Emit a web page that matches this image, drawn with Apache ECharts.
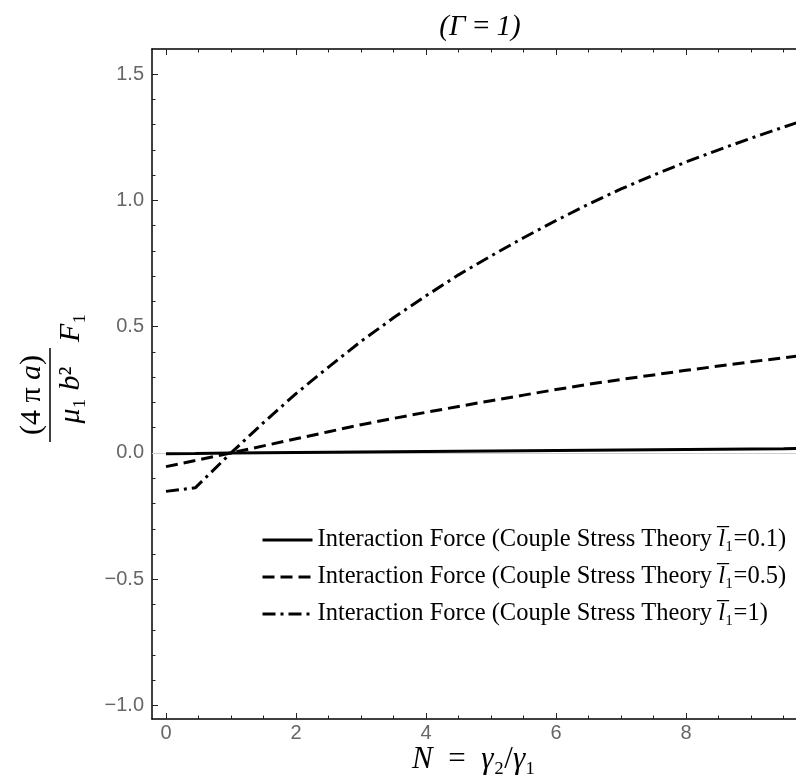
<!DOCTYPE html>
<html><head><meta charset="utf-8">
<script src="https://cdn.jsdelivr.net/npm/echarts@6/dist/echarts.min.js"></script>
<style>html,body{margin:0;padding:0;background:#fff}#c{width:796px;height:778px}</style>
</head><body><div id="c"></div>
<script>
const xValues      = [0, 0.45, 1, 1.5, 2, 2.5, 3, 3.5, 4, 4.5, 5, 5.5, 6, 6.5, 7, 7.5, 8, 8.5, 9, 9.5, 9.7];
const solidValues  = [-0.003, -0.002, 0.000, 0.001, 0.002, 0.003, 0.004, 0.005, 0.006, 0.007, 0.008, 0.009, 0.010, 0.011, 0.012, 0.013, 0.014, 0.015, 0.016, 0.017, 0.018];
const dashedValues = [-0.054, -0.030, 0.000, 0.028, 0.056, 0.084, 0.112, 0.137, 0.161, 0.184, 0.207, 0.229, 0.251, 0.272, 0.291, 0.309, 0.327, 0.344, 0.361, 0.377, 0.383];
const dashDotValues= [-0.152, -0.138, 0.000, 0.120, 0.235, 0.340, 0.442, 0.535, 0.622, 0.705, 0.780, 0.852, 0.920, 0.985, 1.045, 1.100, 1.152, 1.200, 1.246, 1.290, 1.307];
const seriesNames  = ['s01', 's05', 's1'];
const legendValues = ['0.1', '0.5', '1'];
const xMajorTicks  = [0, 2, 4, 6, 8];
const xMinorTicks  = [0.5, 1, 1.5, 2.5, 3, 3.5, 4.5, 5, 5.5, 6.5, 7, 7.5, 8.5, 9, 9.5];
const yMajorTicks  = [-1, -0.5, 0, 0.5, 1, 1.5];
const yMinorTicks  = [-0.9, -0.8, -0.7, -0.6, -0.4, -0.3, -0.2, -0.1, 0.1, 0.2, 0.3, 0.4, 0.6, 0.7, 0.8, 0.9, 1.1, 1.2, 1.3, 1.4];

const SERIF = '"Liberation Serif", "Times New Roman", serif';
const SANS = '"Liberation Sans", Arial, sans-serif';
const X_MIN = -0.215, X_MAX = 9.69, Y_MIN = -1.053, Y_MAX = 1.599;

const chart = echarts.init(document.getElementById('c'), null, {renderer: 'canvas'});

function fmt(v) { return v.toFixed(1).replace('-', '\u2212'); }

function xAx(pos, ticks, len, showLine, showLabel) {
  return {
    type: 'value', position: pos, min: X_MIN, max: X_MAX,
    axisLine: {show: showLine, onZero: false, lineStyle: {color: '#000', width: 1.5}},
    axisTick: {show: true, inside: true, length: len, customValues: ticks, lineStyle: {color: '#222', width: 1}},
    axisLabel: {show: showLabel, customValues: ticks, formatter: v => String(Math.round(v)),
      color: '#666', fontFamily: SANS, fontSize: 20, margin: 4},
    splitLine: {show: false}
  };
}
function yAx(ticks, len, showLine, showLabel) {
  return {
    type: 'value', position: 'left', min: Y_MIN, max: Y_MAX,
    axisLine: {show: showLine, onZero: false, lineStyle: {color: '#000', width: 1.5}},
    axisTick: {show: true, inside: true, length: len, customValues: ticks, lineStyle: {color: '#222', width: 1}},
    axisLabel: {show: showLabel, customValues: ticks, formatter: fmt,
      color: '#666', fontFamily: SANS, fontSize: 20, margin: 8},
    splitLine: {show: false}
  };
}

const lineTypes = ['solid', [12, 6], [13, 5, 3, 5]];
const dataSets = [solidValues, dashedValues, dashDotValues];

const series = dataSets.map((vals, k) => ({
  name: seriesNames[k], type: 'line', xAxisIndex: 0, yAxisIndex: 0,
  data: xValues.map((x, i) => [x, vals[i]]),
  showSymbol: false, symbol: 'none', smooth: false, z: 3,
  lineStyle: {color: '#000', width: 3, type: lineTypes[k]},
  itemStyle: {color: '#000'}
}));
series[0].markLine = {
  silent: true, symbol: 'none', label: {show: false}, z: 1,
  lineStyle: {color: '#cfcfcf', width: 1, type: 'solid'},
  data: [{yAxis: 0}]
};

const italic = {fontFamily: SERIF, fontSize: 30, fontStyle: 'italic', fill: '#000'};

const option = {
  backgroundColor: '#fff',
  animation: false,
  title: {
    text: '(\u0393\u2009=\u20091)', left: 475, top: 8, textAlign: 'center',
    textStyle: {fontFamily: SERIF, fontStyle: 'italic', fontWeight: 'normal', fontSize: 29, color: '#000'}
  },
  grid: {left: 152, right: 0, top: 49, bottom: 59, containLabel: false, outerBoundsMode: 'none'},
  legend: {
    orient: 'vertical', left: 256, top: 521, itemWidth: 50, itemHeight: 14, itemGap: 9,
    data: seriesNames,
    itemStyle: {opacity: 0, color: 'transparent', borderWidth: 0},
    lineStyle: {width: 3},
    formatter: name => 'Interaction Force (Couple Stress Theory {i|l\u0305}\u2081=' + legendValues[seriesNames.indexOf(name)] + ')',
    textStyle: {fontFamily: SERIF, fontSize: 24.5, color: '#000', lineHeight: 28,
      rich: {i: {fontFamily: SERIF, fontSize: 24.5, fontStyle: 'italic', color: '#000', lineHeight: 28}}}
  },
  xAxis: [
    xAx('bottom', xMajorTicks, 6, true, true),
    xAx('top', xMajorTicks, 6, true, false),
    xAx('bottom', xMinorTicks, 3.5, false, false),
    xAx('top', xMinorTicks, 3.5, false, false)
  ],
  yAxis: [
    yAx(yMajorTicks, 6, true, true),
    yAx(yMinorTicks, 3.5, false, false)
  ],
  graphic: [
    {type: 'text', x: 474, y: 760, style: {
      text: '{i|N}\u2002=\u2002{i|\u03b3}\u2082/{i|\u03b3}\u2081', fontFamily: SERIF, fontSize: 31, fill: '#000',
      align: 'center', verticalAlign: 'middle',
      rich: {i: {fontFamily: SERIF, fontSize: 31, fontStyle: 'italic', fill: '#000'}}}},
    {
    type: 'group', x: 50, y: 442, rotation: Math.PI / 2,
    children: [
      {type: 'line', shape: {x1: 0, y1: 0, x2: 94, y2: 0}, style: {stroke: '#000', lineWidth: 1.5}},
      {type: 'text', x: 47, y: -3, style: {
        text: '(4 \u03c0 {i|a})', fontFamily: SERIF, fontSize: 30, fill: '#000',
        align: 'center', verticalAlign: 'bottom', rich: {i: italic}}},
      {type: 'text', x: 47, y: 6, style: {
        text: '{i|\u03bc}\u2081 {i|b}\u00b2', fontFamily: SERIF, fontSize: 30, fill: '#000',
        align: 'center', verticalAlign: 'top', rich: {i: italic}}},
      {type: 'text', x: 100, y: 6, style: {
        text: '{i|F}\u2081', fontFamily: SERIF, fontSize: 30, fill: '#000',
        align: 'left', verticalAlign: 'top', rich: {i: italic}}}
    ]
  }],
  series: series
};
chart.setOption(option);
</script></body></html>
